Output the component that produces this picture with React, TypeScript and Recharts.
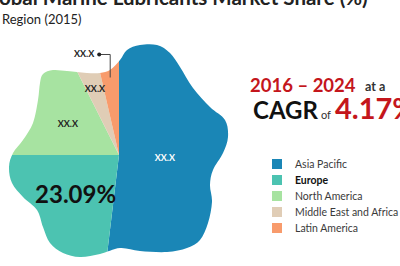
import React from 'react';
import { PieChart, Pie, Cell, Legend, Sector } from 'recharts';

// Market share by region, 2015 (%)
const regions = ['Asia Pacific', 'Europe', 'North America', 'Middle East and Africa', 'Latin America'];
const shares = [51.9, 23.09, 17.6, 3.8, 3.6];
const sliceLabels = ['XX.X', '23.09%', 'XX.X', 'XX.X', 'XX.X'];

const periodText = '2016 – 2024';
const cagrText = '4.17%';

const colors = ['#1a86b6', '#4cc3b1', '#a7e3a1', '#e0cdb6', '#f89b6c'];
const labelRadius = [46, 58, 60, 71, 78];

const data = regions.map((name, i) => ({ name, value: shares[i] }));

// outline of the blob the pie is clipped to
const blobPoints: [number, number][] = [
  [120, 60], [127, 50], [140, 45], [157, 45], [170, 53], [180, 67], [193, 88],
  [210, 107], [225, 120], [228, 137], [223, 153], [213, 170], [210, 185],
  [212, 202], [208, 223], [200, 240], [187, 248], [167, 252], [140, 251],
  [120, 248], [100, 254], [80, 257], [63, 253], [50, 243], [43, 227],
  [37, 210], [23, 197], [12, 183], [9, 167], [13, 153], [23, 140], [33, 123],
  [38, 100], [40, 83], [43, 74], [53, 70], [67, 71], [77, 72], [87, 73],
  [100, 73], [110, 70],
];

const smoothPath = (pts: [number, number][]) => {
  const n = pts.length;
  let d = `M${pts[0][0]},${pts[0][1]}`;
  for (let i = 0; i < n; i++) {
    const p0 = pts[(i - 1 + n) % n];
    const p1 = pts[i];
    const p2 = pts[(i + 1) % n];
    const p3 = pts[(i + 2) % n];
    const c1x = p1[0] + (p2[0] - p0[0]) / 6;
    const c1y = p1[1] + (p2[1] - p0[1]) / 6;
    const c2x = p2[0] - (p3[0] - p1[0]) / 6;
    const c2y = p2[1] - (p3[1] - p1[1]) / 6;
    d += ` C${c1x},${c1y} ${c2x},${c2y} ${p2[0]},${p2[1]}`;
  }
  return d + 'Z';
};

const RADIAN = Math.PI / 180;
const font = 'Lato, "Open Sans", sans-serif';

const renderLabel = (props: any) => {
  const { cx, cy, midAngle, index } = props;
  const r = labelRadius[index];
  const x = cx + r * Math.cos(-midAngle * RADIAN);
  const y = cy + r * Math.sin(-midAngle * RADIAN);
  if (index === 4) {
    // leader line out of the thin slice
    const topY = y - 23;
    const dotX = x - 11;
    return (
      <g>
        <polyline points={`${x},${y} ${x},${topY} ${dotX},${topY}`} fill="none" stroke="#444" strokeWidth={1} />
        <circle cx={dotX} cy={topY} r={2} fill="#222" />
        <text x={dotX - 5} y={topY + 3} textAnchor="end" fontFamily={font} fontWeight={700} fontSize={9} fill="#222">
          {sliceLabels[index]}
        </text>
      </g>
    );
  }
  if (index === 1) {
    return (
      <text x={x} y={y} textAnchor="middle" dominantBaseline="central" fontFamily={font} fontWeight={700} fontSize={24} fill="#111">
        {sliceLabels[index]}
      </text>
    );
  }
  return (
    <text x={x} y={y} textAnchor="middle" dominantBaseline="central" fontFamily={font} fontWeight={700} fontSize={9}
      fill={index === 0 ? '#fff' : '#222'}>
      {sliceLabels[index]}
    </text>
  );
};

const BlobSector = (props: any) => (
  <g clipPath="url(#blob)">
    <Sector {...props} stroke="none" />
  </g>
);

// legend keeps the region order of the data
const LegendContent = () => (
  <div style={{ fontFamily: font, fontSize: 10.5, whiteSpace: 'nowrap' }}>
    {regions.map((name, i) => (
      <div key={`item-${i}`} style={{ display: 'flex', alignItems: 'center', height: 16 }}>
        <span style={{ width: 10, height: 10, background: colors[i], display: 'inline-block', marginRight: 13, flexShrink: 0 }} />
        <span style={{ color: name === 'Europe' ? '#111' : '#3a3a3a', fontWeight: name === 'Europe' ? 700 : 400 }}>
          {name}
        </span>
      </div>
    ))}
  </div>
);

const App: React.FC = () => {
  return (
    <div style={{ position: 'fixed', left: 0, top: 0, width: 400, height: 266, background: '#fff', overflow: 'hidden' }}>
      <svg width={0} height={0} style={{ position: 'absolute' }}>
        <defs>
          <clipPath id="blob">
            <path d={smoothPath(blobPoints)} />
          </clipPath>
        </defs>
      </svg>
      <PieChart width={400} height={266} margin={{ top: 0, right: 0, bottom: 0, left: 0 }}>
        <Pie
          data={data}
          dataKey="value"
          nameKey="name"
          cx={119}
          cy={155}
          outerRadius={135}
          startAngle={90}
          endAngle={-270}
          stroke="none"
          shape={BlobSector}
          label={renderLabel}
          labelLine={false}
          isAnimationActive={false}
        >
          {data.map((entry, i) => (
            <Cell key={entry.name} fill={colors[i]} />
          ))}
        </Pie>
        <Legend
          layout="vertical"
          align="right"
          verticalAlign="middle"
          content={<LegendContent />}
          wrapperStyle={{ position: 'absolute', left: 272, top: 156, width: 128 }}
        />
      </PieChart>
      <svg width={400} height={266} style={{ position: 'absolute', left: 0, top: 0, pointerEvents: 'none' }}>
        <text x={-21} y={5} fontFamily={font} fontWeight={700} fontSize={20.5} fill="#222">
          Global Marine Lubricants Market Share (%)
        </text>
        <text x={2} y={24} fontFamily={font} fontSize={13} fill="#222">
          Region (2015)
        </text>
        <text x={250} y={92} fontFamily={font} fontWeight={700} fontSize={18.5} fill="#c4161c">
          {periodText}
        </text>
        <text x={365} y={91} fontFamily={font} fontWeight={700} fontSize={12.5} fill="#333">
          at a
        </text>
        <text x={253} y={119} fontFamily={font} fontWeight={700} fontSize={24} fill="#111">
          CAGR
        </text>
        <text x={321} y={119} fontFamily={font} fontSize={11} fill="#333">
          of
        </text>
        <text x={335} y={119} fontFamily={font} fontWeight={700} fontSize={29} fill="#c4161c">
          {cagrText}
        </text>
      </svg>
    </div>
  );
};

export default App;
